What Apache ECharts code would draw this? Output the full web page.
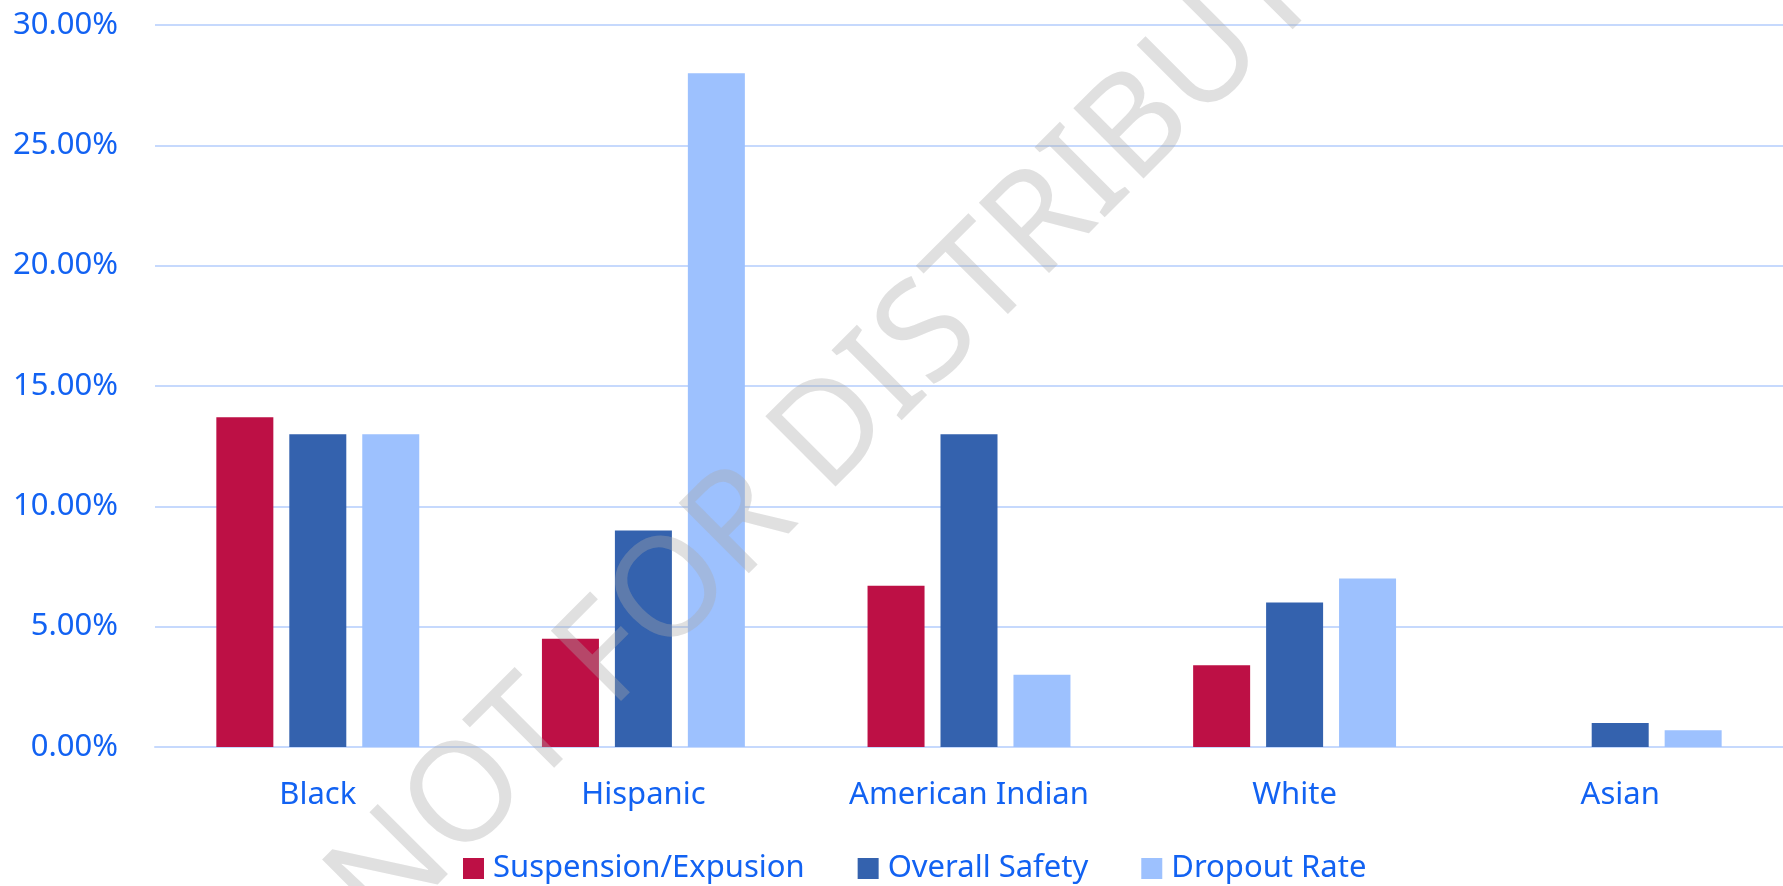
<!DOCTYPE html>
<html>
<head>
<meta charset="utf-8">
<script src="https://cdn.jsdelivr.net/npm/echarts@6/dist/echarts.min.js"></script>
<style>
  html, body { margin: 0; padding: 0; background: #ffffff; }
  #chart { width: 1783px; height: 886px; }
</style>
</head>
<body>
<div id="chart"></div>
<script>
// Groups along the x axis
const categories = ['Black', 'Hispanic', 'American Indian', 'White', 'Asian'];

// Rates per group, in percent
const suspensionExpusion = [13.7, 4.5, 6.7, 3.4, 0];
const overallSafety = [13.0, 9.0, 13.0, 6.0, 1.0];
const dropoutRate = [13.0, 28.0, 3.0, 7.0, 0.7];

const seriesNames = ['Suspension/Expusion', 'Overall Safety', 'Dropout Rate'];
const seriesColors = ['#BD1045', '#3462AE', '#9DC1FE'];

const textBlue = '#1262F2';
const gridBlue = '#C6D9FD';
const fontFamily = '"Noto Sans", "Open Sans", sans-serif';

const chart = echarts.init(document.getElementById('chart'), null, { renderer: 'canvas' });

const values = [suspensionExpusion, overallSafety, dropoutRate];

chart.setOption({
  animation: false,
  backgroundColor: '#ffffff',
  textStyle: { fontFamily: fontFamily },
  grid: { left: 155, top: 25, width: 1632, height: 722, containLabel: false },
  legend: {
    data: seriesNames,
    left: 458,
    top: 848,
    icon: 'rect',
    itemWidth: 21,
    itemHeight: 21,
    itemGap: 53,
    textStyle: { color: textBlue, fontSize: 31, fontFamily: fontFamily, padding: [0, 0, 0, 4] }
  },
  xAxis: {
    type: 'category',
    data: categories,
    axisLine: { show: true, lineStyle: { color: gridBlue, width: 2 } },
    axisTick: { show: false },
    axisLabel: { color: textBlue, fontSize: 31, margin: 33, fontFamily: fontFamily }
  },
  yAxis: {
    type: 'value',
    min: 0,
    max: 30,
    interval: 5,
    axisLine: { show: false },
    axisTick: { show: false },
    splitLine: { lineStyle: { color: gridBlue, width: 2 } },
    axisLabel: {
      color: textBlue,
      fontSize: 31,
      margin: 37,
      fontFamily: fontFamily,
      formatter: v => v.toFixed(2) + '%'
    }
  },
  series: seriesNames.map((name, i) => ({
    name: name,
    type: 'bar',
    data: values[i],
    barWidth: 57,
    barGap: '28%',
    itemStyle: { color: seriesColors[i] }
  })),
  // Diagonal watermark across the plot
  graphic: [{
    type: 'text',
    z: 100,
    x: 918,
    y: 348,
    rotation: Math.PI / 4,
    silent: true,
    style: {
      text: 'NOT FOR DISTRIBUTION',
      fontSize: 139,
      fontWeight: 'normal',
      fontFamily: '"Noto Sans", "Lato", sans-serif',
      fill: 'rgba(170,170,170,0.36)',
      align: 'center',
      verticalAlign: 'middle'
    }
  }]
});
</script>
</body>
</html>
